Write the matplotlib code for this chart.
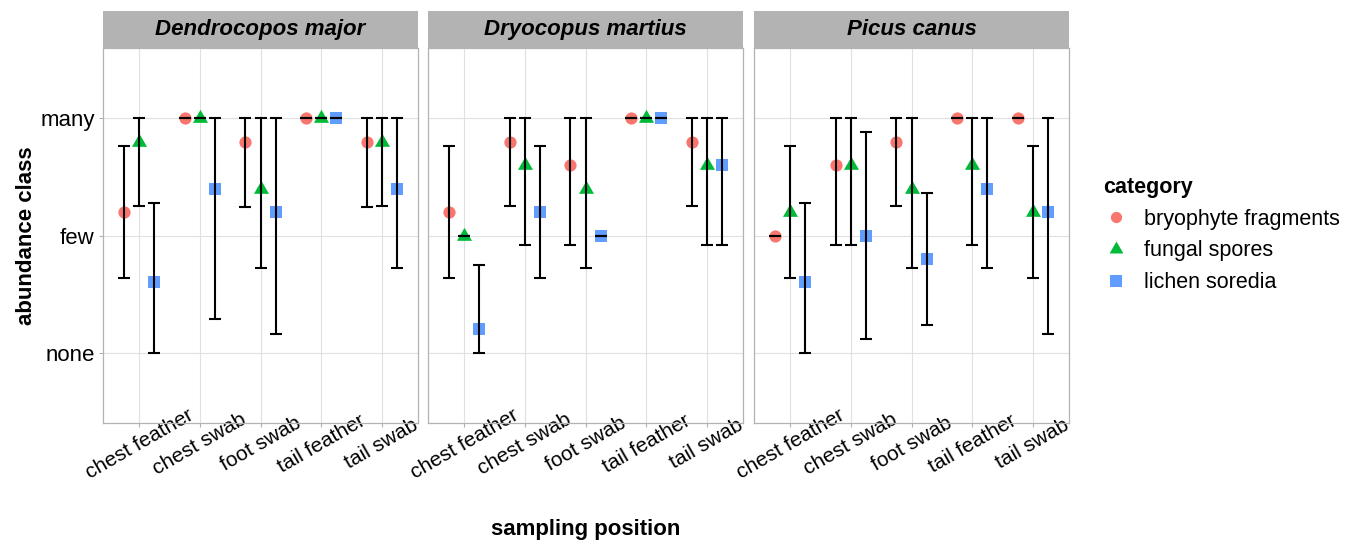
import numpy as np
import matplotlib
matplotlib.use('Agg')
import matplotlib.pyplot as plt
from matplotlib.patches import Rectangle
from matplotlib.lines import Line2D

plt.rcParams['font.family'] = ['Liberation Sans', 'DejaVu Sans']

####
positions = ['chest feather', 'chest swab', 'foot swab', 'tail feather', 'tail swab']
categories = ['bryophyte fragments', 'fungal spores', 'lichen soredia']
species = ['Dendrocopos major', 'Dryocopus martius', 'Picus canus']
levels = ['none', 'few', 'many']

# mean abundance class (1 = none, 2 = few, 3 = many), rows = categories
mean_dmaj = [[2.2, 3.0, 2.8, 3.0, 2.8],
             [2.8, 3.0, 2.4, 3.0, 2.8],
             [1.6, 2.4, 2.2, 3.0, 2.4]]
sd_dmaj = [[0.56, 0.0, 0.56, 0.0, 0.56],
           [0.55, 0.0, 0.68, 0.0, 0.55],
           [0.68, 1.11, 1.04, 0.0, 0.68]]

mean_dmar = [[2.2, 2.8, 2.6, 3.0, 2.8],
             [2.0, 2.6, 2.4, 3.0, 2.6],
             [1.2, 2.2, 2.0, 3.0, 2.6]]
sd_dmar = [[0.56, 0.55, 0.68, 0.0, 0.55],
           [0.0, 0.68, 0.68, 0.0, 0.68],
           [0.55, 0.56, 0.0, 0.0, 0.68]]

mean_pcan = [[2.0, 2.6, 2.8, 3.0, 3.0],
             [2.2, 2.6, 2.4, 2.6, 2.2],
             [1.6, 2.0, 1.8, 2.4, 2.2]]
sd_pcan = [[0.0, 0.68, 0.55, 0.0, 0.0],
           [0.56, 0.68, 0.68, 0.68, 0.56],
           [0.68, 0.88, 0.56, 0.68, 1.04]]

means = [mean_dmaj, mean_dmar, mean_pcan]
sds = [sd_dmaj, sd_dmar, sd_pcan]

#####
colors = ['#F8766D', '#00BA38', '#619CFF']
tri = [(-1, -0.577), (1, -0.577), (0, 1.155)]
markers = ['o', tri, 's']
msizes = [8.8, 12.5, 8.8]
offsets = [-0.25, 0, 0.25]
grey = '#B3B3B3'

W, H = 1355, 542
fig = plt.figure(figsize=(W / 100, H / 100), dpi=100)

lefts = [103, 428, 754]
pw, top, bot = 315, 48, 423
ph = bot - top
strip_h = 37

x = np.arange(1, len(positions) + 1)

for k, sp in enumerate(species):
    ax = fig.add_axes([lefts[k] / W, 1 - bot / H, pw / W, ph / H])
    for i, cat in enumerate(categories):
        m = np.array(means[k][i])
        s = np.array(sds[k][i])
        lo = np.clip(m - s, 1, 3)
        hi = np.clip(m + s, 1, 3)
        ax.plot(x + offsets[i], m, ls='None', marker=markers[i], ms=msizes[i],
                color=colors[i], mew=0, zorder=3)
        ax.errorbar(x + offsets[i], m, yerr=[m - lo, hi - m], fmt='none',
                    ecolor='black', elinewidth=1.5, capsize=4.3, capthick=1.5,
                    zorder=4)

    ax.set_xlim(0.4, 5.6)
    ax.set_ylim(0.4, 3.6)
    ax.set_xticks(x)
    ax.set_xticklabels(positions, rotation=30, ha='center', va='center',
                       rotation_mode='anchor', fontsize=15)
    ax.set_yticks([1, 2, 3])
    ax.grid(True, color='#E0E0E0', lw=0.8, zorder=0)
    ax.set_axisbelow(True)
    for sp_ in ax.spines.values():
        sp_.set_color(grey)
        sp_.set_linewidth(0.9)
    ax.tick_params(axis='x', length=3, width=0.8, color=grey, pad=12)
    if k == 0:
        ax.set_yticklabels(levels, fontsize=16)
        ax.tick_params(axis='y', length=3, width=0.8, color=grey, pad=3)
    else:
        ax.tick_params(axis='y', length=0, labelleft=False)

    # facet strip
    ax.add_patch(Rectangle((0, 1), 1, strip_h / ph, transform=ax.transAxes,
                           facecolor=grey, edgecolor='none', clip_on=False))
    ax.text(0.5, 1 + strip_h / ph / 2, sp, transform=ax.transAxes,
            ha='center', va='center', fontsize=16, fontweight='bold',
            fontstyle='italic')

fig.text(27 / W, 1 - 236 / H, 'abundance class', rotation=90, ha='center',
         va='center', fontsize=16, fontweight='bold')
fig.text(586 / W, 1 - 530 / H, 'sampling position', ha='center', va='center',
         fontsize=16, fontweight='bold')

handles = [Line2D([], [], ls='None', marker=markers[i], ms=msizes[i] * 0.92,
                  color=colors[i], mew=0) for i in range(3)]
leg = fig.legend(handles, categories, loc='upper left',
                 bbox_to_anchor=(1092 / W, 1 - 166 / H), frameon=False,
                 fontsize=15.5, title='category', handlelength=1.2,
                 handletextpad=0.7, labelspacing=0.5, borderpad=0,
                 alignment='left',
                 title_fontproperties={'weight': 'bold', 'size': 15.5})

fig.savefig('out.png', dpi=100)
